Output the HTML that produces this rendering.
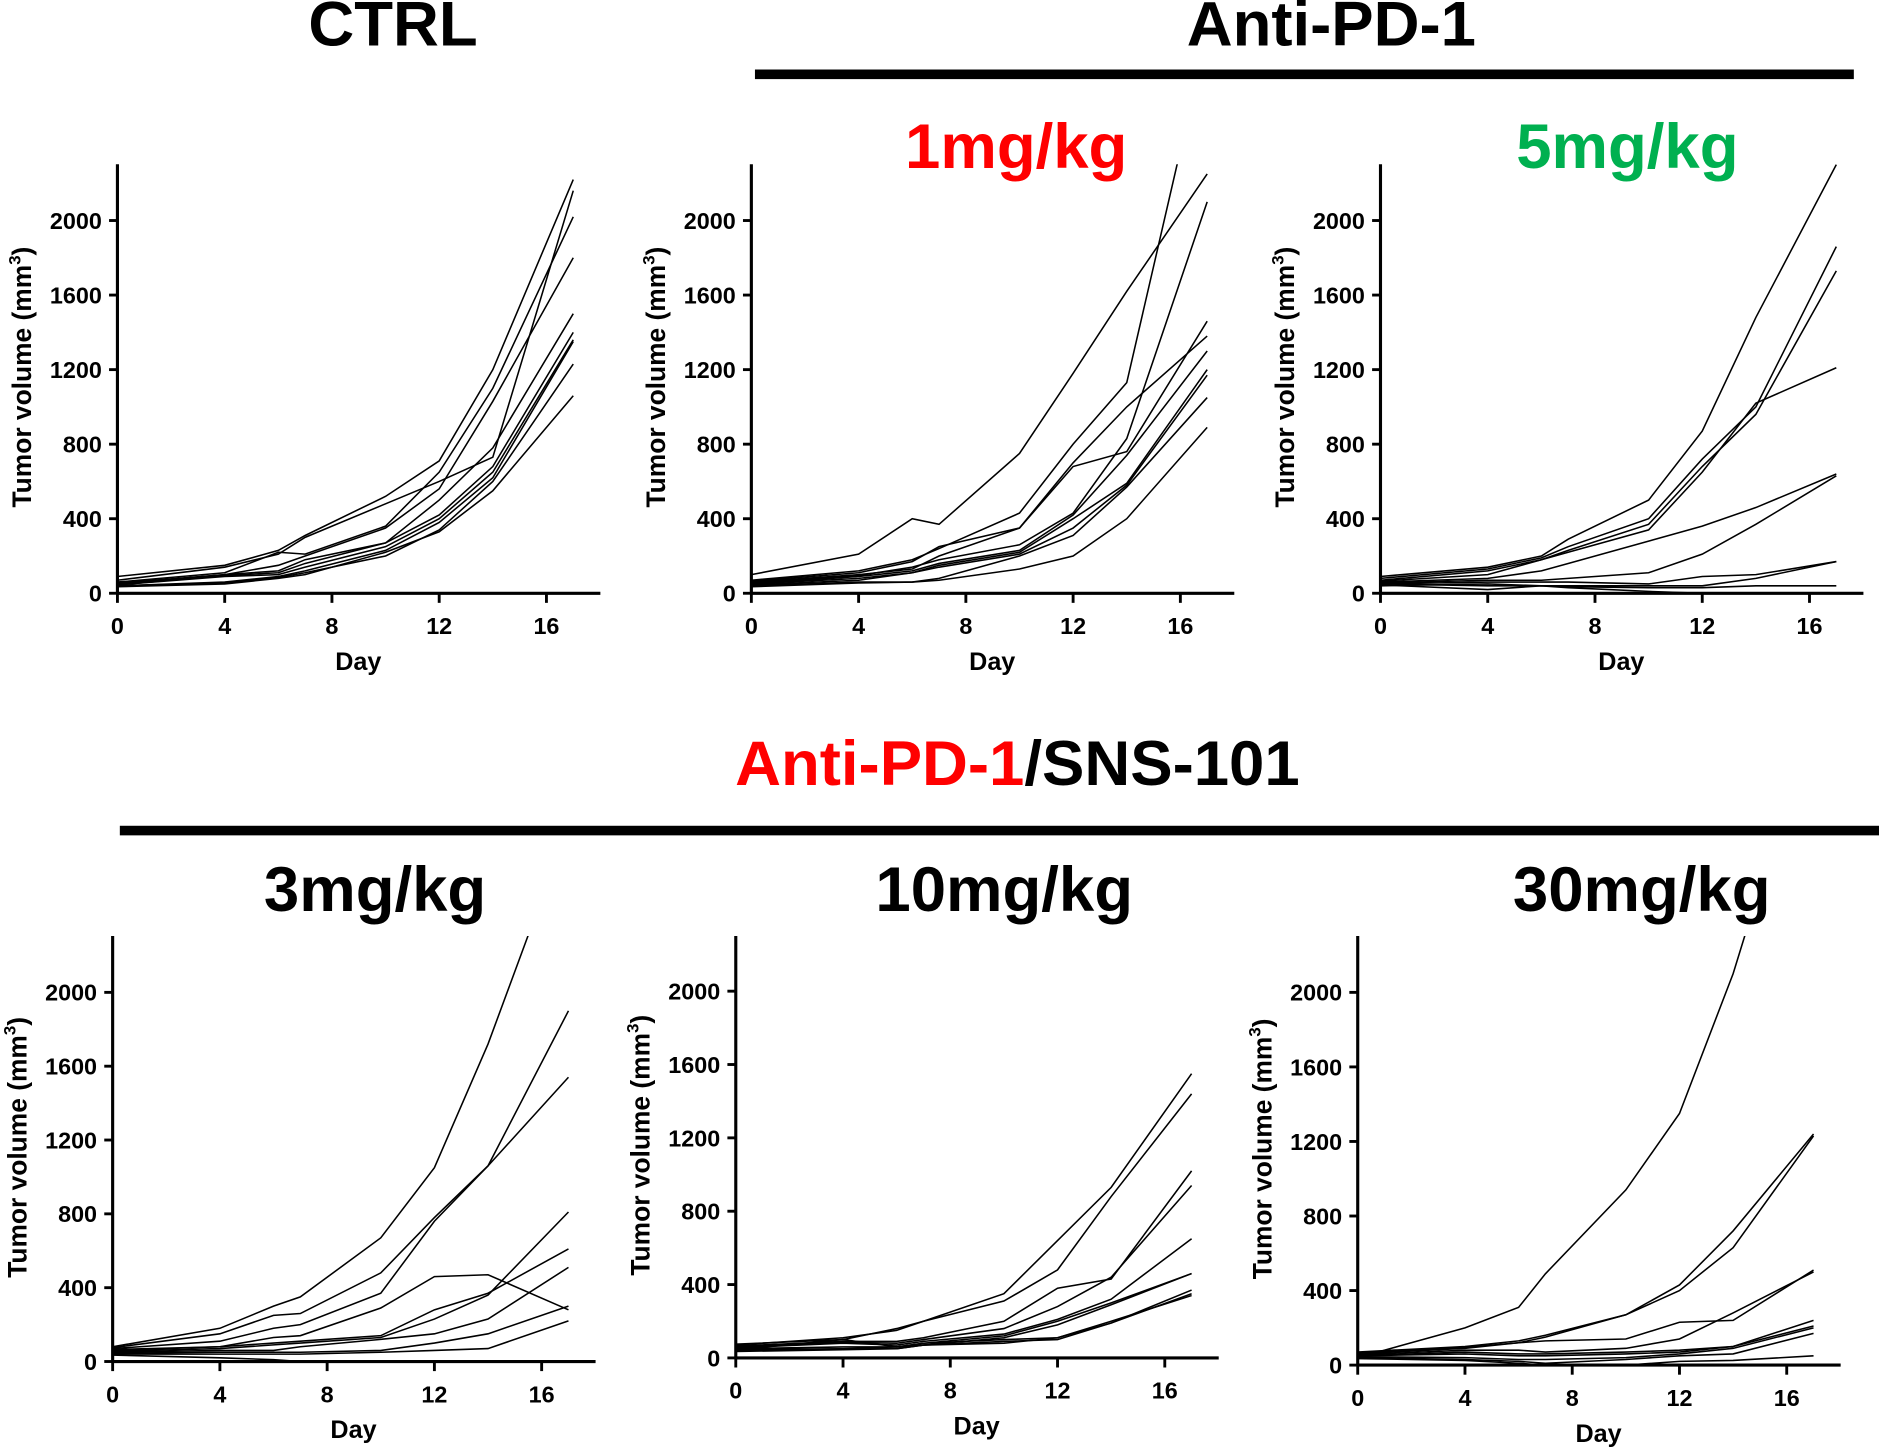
<!DOCTYPE html>
<html><head><meta charset="utf-8"><style>
html,body{margin:0;padding:0;background:#fff;}
svg{display:block;font-family:"Liberation Sans",Arial,sans-serif;font-weight:bold;}
</style></head><body>
<svg id="fig" width="1879" height="1449" viewBox="0 0 1568 1209" preserveAspectRatio="none" xmlns="http://www.w3.org/2000/svg">
<text x="328" y="38" font-size="53" text-anchor="middle">CTRL</text>
<text x="1111" y="38" font-size="53" text-anchor="middle">Anti-PD-1</text>
<rect x="630" y="58" width="917" height="8" fill="#000"/>
<text x="848" y="140" font-size="53" text-anchor="middle" fill="#ff0000">1mg/kg</text>
<text x="1358" y="140" font-size="53" text-anchor="middle" fill="#00b050">5mg/kg</text>
<text x="849" y="655" font-size="53" text-anchor="middle"><tspan fill="#ff0000">Anti-PD-1</tspan>/SNS-101</text>
<rect x="100" y="689" width="1468" height="8" fill="#000"/>
<text x="313" y="760" font-size="53" text-anchor="middle">3mg/kg</text>
<text x="838" y="760" font-size="53" text-anchor="middle">10mg/kg</text>
<text x="1370" y="760" font-size="53" text-anchor="middle">30mg/kg</text>
</svg>
<script>
const days = [0,4,6,7,10,12,14,17];
const xTicks = [0,4,8,12,16];
const yTicks = [0,400,800,1200,1600,2000];
const ctrlSeries = [
[90,150,230,310,520,710,1200,2220],[70,140,210,300,480,600,730,2160],[60,110,220,210,360,650,1100,2020],
[55,100,150,200,350,560,1030,1800],[50,100,120,180,270,500,780,1500],[45,95,110,160,270,420,680,1400],
[45,90,100,140,250,400,650,1360],[40,60,90,120,230,380,620,1350],[40,55,85,110,200,340,600,1230],[35,50,80,100,220,330,550,1060]];
const mg1Series = [
[100,210,400,370,750,1180,1620,2250],[70,120,180,240,430,800,1130,3000],[65,110,170,250,350,700,1000,1380],
[60,100,130,200,350,680,760,1460],[55,95,140,180,260,430,830,2100],[50,90,120,160,230,420,740,1300],
[50,80,110,150,220,400,590,1200],[45,70,110,140,210,350,580,1170],[40,60,60,80,200,310,570,1050],[35,55,60,70,130,200,400,890]];
const mg5Series = [
[90,140,200,290,500,870,1480,2300],[80,130,190,250,400,720,1000,1860],[70,120,180,230,370,680,960,1730],
[65,100,180,220,340,650,1020,1210],[60,80,120,160,280,360,460,640],[55,70,70,80,110,210,370,630],
[50,60,60,60,50,90,100,170],[50,40,40,40,40,40,80,170],[45,20,40,30,10,0,0,0],[40,50,40,35,30,30,40,40]];
const mg3Series = [
[80,180,300,350,670,1050,1720,2900],[75,150,250,260,480,780,1060,1900],[70,110,180,200,370,760,1060,1540],
[65,80,130,140,290,460,470,280],[60,80,100,110,140,280,370,610],[55,70,90,100,130,230,360,810],
[50,60,60,80,120,150,230,510],[45,50,50,50,60,100,150,300],[40,40,40,40,50,60,70,220],[35,20,10,0,0,0,0,0]];
const mg10Series = [
[75,100,160,200,350,640,930,1550],[70,110,150,200,310,480,880,1440],[65,90,90,110,200,380,430,1020],
[60,85,80,100,160,280,440,940],[55,80,70,90,130,210,320,650],[50,60,60,80,120,200,300,460],
[45,50,50,70,110,180,290,460],[40,50,60,80,100,110,190,370],[35,45,50,70,90,100,190,350],[45,100,60,70,80,110,200,340]];
const mg30Series = [
[40,200,310,490,940,1350,2100,3500],[70,100,130,160,270,430,720,1240],[65,95,120,150,270,400,630,1230],
[60,90,120,130,140,230,240,510],[55,80,80,70,90,140,280,500],[50,70,60,60,70,80,100,240],
[50,60,50,50,60,70,100,210],[45,40,30,30,40,60,90,200],[40,30,20,10,30,50,60,170],[35,25,10,0,0,20,25,50]];
const panelNames = ['ctrl','1mgkg','5mgkg','3mgkg','10mgkg','30mgkg'];
const panelData = [ctrlSeries,mg1Series,mg5Series,mg3Series,mg10Series,mg30Series];
const geo = [
{x0:98,y0:495,y2000:184,top:137},{x0:627,y0:495,y2000:184,top:137},{x0:1152,y0:495,y2000:184,top:137},
{x0:94,y0:1136,y2000:828,top:781},{x0:614,y0:1133,y2000:827,top:781},{x0:1133,y0:1139,y2000:828,top:781}];
const NS='http://www.w3.org/2000/svg';
const svg=document.getElementById('fig');
function mk(tag,attrs,parent){const e=document.createElementNS(NS,tag);for(const k in attrs)e.setAttribute(k,attrs[k]);(parent||svg).appendChild(e);return e;}
geo.forEach((g,pi)=>{
  const dx=(456-98)/16;
  const xS=d=>g.x0+d*dx;
  const yS=v=>g.y0-v*(g.y0-g.y2000)/2000;
  const grp=mk('g',{});
  
  
  const cp=mk('clipPath',{id:'cp'+pi},grp);
  mk('rect',{x:g.x0,y:g.top,width:420,height:g.y0-g.top+5},cp);
  const lines=mk('g',{'clip-path':'url(#cp'+pi+')'},grp);
  panelData[pi].forEach((s,si)=>{
    const p=mk('polyline',{points:s.map((v,i)=>xS(days[i])+','+yS(v)).join(' '),fill:'none',stroke:'#000','stroke-width':1.3},lines);
    
    
  });
  const ya=mk('line',{x1:g.x0,y1:g.top,x2:g.x0,y2:g.y0+1,stroke:'#000','stroke-width':2.6},grp);
  
  
  const xa=mk('line',{x1:g.x0-1,y1:g.y0,x2:g.x0+403,y2:g.y0,stroke:'#000','stroke-width':2.6},grp);
  
  
  yTicks.forEach(t=>{
    const y=yS(t);
    mk('line',{x1:g.x0-7,y1:y,x2:g.x0,y2:y,stroke:'#000','stroke-width':2.4},grp);
    const tx=mk('text',{x:g.x0-13,y:y+7,'font-size':19.5,'text-anchor':'end'},grp);
    tx.textContent=t;
    
    
  });
  xTicks.forEach(t=>{
    const x=xS(t);
    mk('line',{x1:x,y1:g.y0,x2:x,y2:g.y0+8,stroke:'#000','stroke-width':2.4},grp);
    const tx=mk('text',{x:x,y:g.y0+34,'font-size':19.5,'text-anchor':'middle'},grp);
    tx.textContent=t;
    
    
  });
  const xt=mk('text',{x:g.x0+201,y:g.y0+64,'font-size':21,'text-anchor':'middle'},grp);
  xt.textContent='Day';
  
  
  const cy=yS(1160);
  const yt=mk('text',{x:0,y:0,'font-size':22,'text-anchor':'middle',transform:'translate('+(g.x0-72)+','+cy+') rotate(-90)'},grp);
  yt.innerHTML='Tumor volume (mm<tspan dy="-9" font-size="14">3</tspan><tspan dy="9">)</tspan>';
  
  
});
</script>
</body></html>
